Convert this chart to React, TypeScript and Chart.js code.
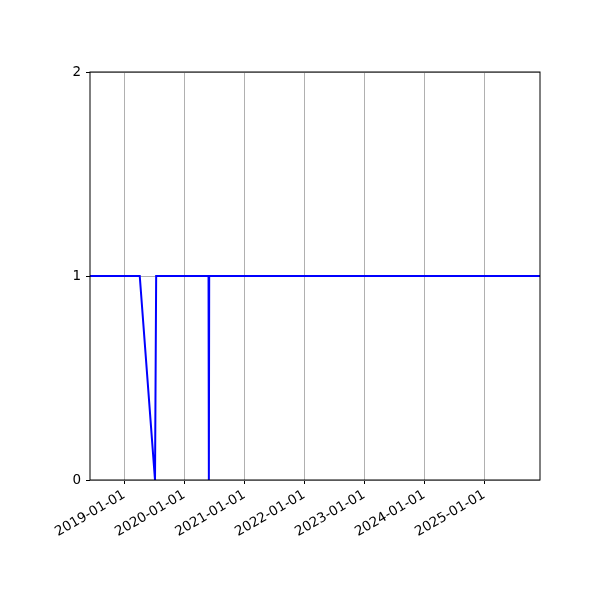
import { useEffect, useRef } from "react";
import { Chart, registerables } from "chart.js";

Chart.register(...registerables);

// sample dates and values
const dates = [
  "2018-06-06",
  "2019-04-05",
  "2019-07-07",
  "2019-07-14",
  "2020-05-28",
  "2020-05-30",
  "2020-06-01",
  "2025-12-07",
];
const values = [1, 1, 0, 1, 1, 0, 1, 1];
const yearTicks = ["2019-01-01", "2020-01-01", "2021-01-01", "2022-01-01", "2023-01-01", "2024-01-01", "2025-01-01"];
const yTicks = [0, 1, 2];

const toMs = (d: string) => Date.parse(d + "T00:00:00Z");

const frame = {
  id: "frame",
  afterDraw(chart: Chart) {
    const { ctx, chartArea: a } = chart;
    ctx.save();
    ctx.strokeStyle = "#000";
    ctx.lineWidth = 1;
    ctx.strokeRect(a.left, a.top, a.right - a.left, a.bottom - a.top);
    ctx.restore();
  },
};

export default function App() {
  const ref = useRef<HTMLCanvasElement>(null);

  useEffect(() => {
    const canvas = ref.current;
    if (!canvas) return;
    const font = { family: "DejaVu Sans", size: 13.5 };
    const chart = new Chart(canvas, {
      type: "line",
      data: {
        datasets: [
          {
            data: dates.map((d, i) => ({ x: toMs(d), y: values[i] })),
            borderColor: "#0000ff",
            borderWidth: 2,
            pointRadius: 0,
            tension: 0,
            fill: false,
          },
        ],
      },
      options: {
        animation: false,
        responsive: false,
        layout: { padding: { top: 72, right: 60, left: 0, bottom: 0 } },
        plugins: { legend: { display: false }, tooltip: { enabled: false } },
        scales: {
          x: {
            type: "linear",
            min: toMs(dates[0]),
            max: toMs(dates[dates.length - 1]),
            grid: { color: "#b0b0b0", lineWidth: 1, tickColor: "#000", tickLength: 4 },
            border: { display: false },
            afterBuildTicks(scale: any) {
              scale.ticks = yearTicks.map((t) => ({ value: toMs(t) }));
            },
            afterFit(scale: any) {
              scale.height = 120;
            },
            ticks: {
              autoSkip: false,
              maxRotation: 30,
              minRotation: 30,
              color: "#000",
              font,
              padding: 3,
              callback: (v: any) => new Date(Number(v)).toISOString().slice(0, 10),
            },
          },
          y: {
            min: 0,
            max: 2,
            grid: { color: "#b0b0b0", lineWidth: 1, tickColor: "#000", tickLength: 4 },
            border: { display: false },
            afterBuildTicks(scale: any) {
              scale.ticks = yTicks.map((t) => ({ value: t }));
            },
            afterFit(scale: any) {
              scale.width = 90;
            },
            ticks: { color: "#000", font, padding: 5 },
          },
        },
      },
      plugins: [frame],
    });
    return () => chart.destroy();
  }, []);

  return (
    <div style={{ position: "fixed", left: 0, top: 0, width: 600, height: 600, background: "#fff" }}>
      <canvas ref={ref} width={600} height={600} />
    </div>
  );
}
